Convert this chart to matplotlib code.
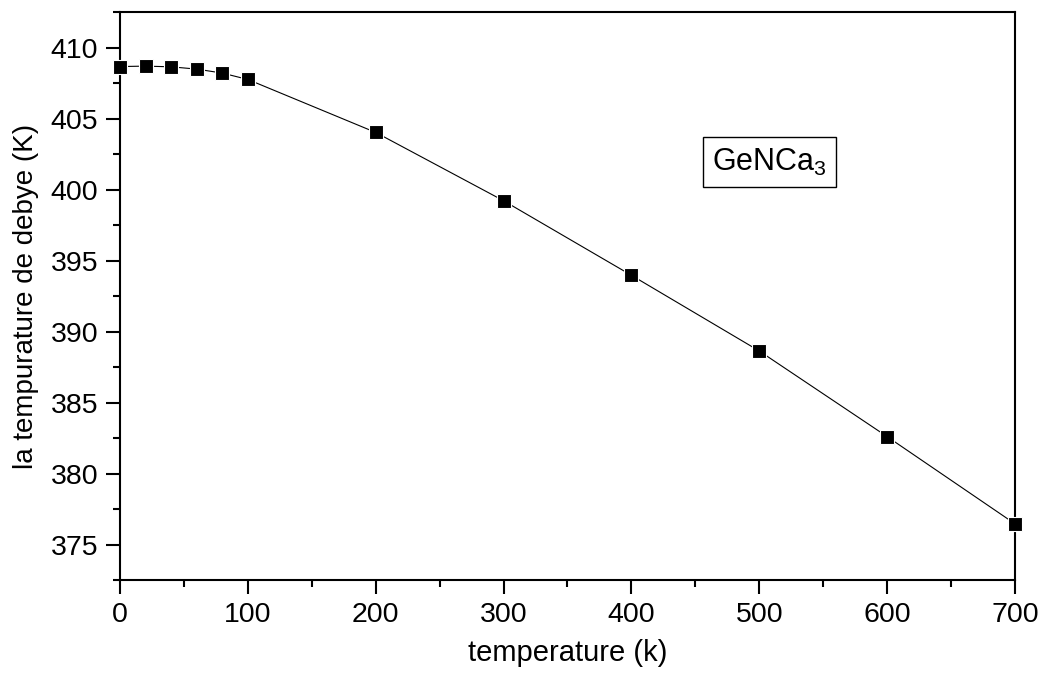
"""Debye temperature vs temperature for GeNCa3."""

import matplotlib
matplotlib.use("Agg")
import matplotlib.pyplot as plt
from matplotlib.ticker import MultipleLocator

# Data
temperature = [0, 20, 40, 60, 80, 100, 200, 300, 400, 500, 600, 700]
theta_debye = [408.66, 408.69, 408.64, 408.48, 408.20, 407.75,
               404.02, 399.21, 393.96, 388.63, 382.60, 376.46]

plt.rcParams['font.family'] = ['Liberation Sans', 'DejaVu Sans']
plt.rcParams['mathtext.fontset'] = 'custom'
plt.rcParams['mathtext.rm'] = 'Liberation Sans'
plt.rcParams['mathtext.it'] = 'Liberation Sans'

fig = plt.figure(figsize=(10.47, 6.75), dpi=100)
ax = fig.add_axes([0.1146, 0.1407, 0.8548, 0.8415])

ax.plot(temperature, theta_debye, '-', color='black', linewidth=0.8,
        marker='s', markersize=10.5, markerfacecolor='black',
        markeredgecolor='white', markeredgewidth=0.8, clip_on=False, zorder=3)

ax.set_xlim(0, 700)
ax.set_ylim(372.5, 412.5)
ax.xaxis.set_major_locator(MultipleLocator(100))
ax.xaxis.set_minor_locator(MultipleLocator(50))
ax.yaxis.set_major_locator(MultipleLocator(5))
ax.yaxis.set_minor_locator(MultipleLocator(2.5))

ax.tick_params(which='both', direction='out', width=1.5, top=False, right=False,
               labelsize=20.5)
ax.tick_params(which='major', length=9.8, pad=6)
ax.tick_params(which='minor', length=4.8)
for side in ax.spines.values():
    side.set_linewidth(1.5)

ax.set_xlabel('temperature (k)', fontsize=21, labelpad=8)
ax.set_ylabel('la tempurature de debye (K)', fontsize=20, labelpad=8)

# compound label in a framed box
ax.text(0.6615, 0.736, r'GeNCa$_3$', transform=ax.transAxes,
        fontsize=22, ha='left', va='center',
        bbox=dict(boxstyle='square,pad=0.3', facecolor='white',
                  edgecolor='black', linewidth=1.0))

fig.savefig('out.png', dpi=100)
plt.close(fig)
